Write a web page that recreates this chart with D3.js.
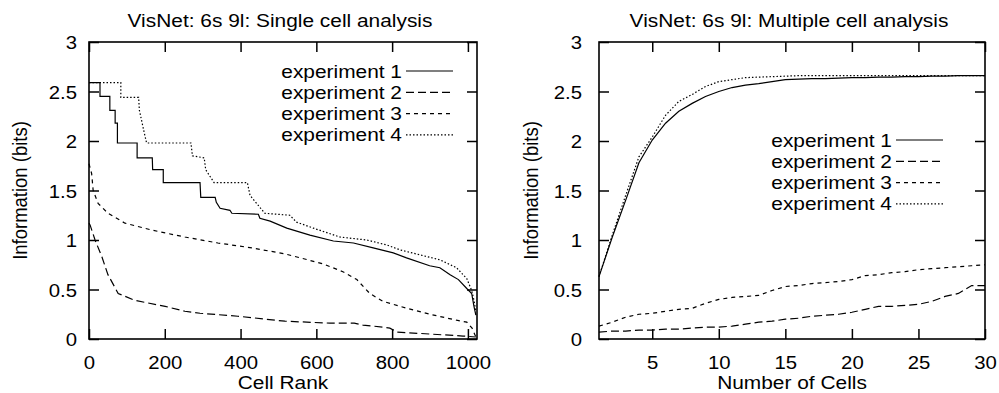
<!DOCTYPE html>
<meta charset="utf-8">
<script src="https://d3js.org/d3.v7.min.js"></script>
<style>
  body { margin: 0; background: #fff; }
  text { font-family: "Liberation Sans", Arial, sans-serif; font-size: 18.5px; fill: #000; }
</style>
<div id="graph"></div>
<script>
  // ---- single cell analysis: [cell rank, information (bits)]
  var singleExp1 = [[0,2.59],[29,2.59],[29,2.45],[55,2.45],[55,2.31],[69,2.31],[69,2.18],[75,2.18],[75,1.98],[127,1.98],
    [127,1.83],[167,1.83],[168,1.71],[196,1.71],[196,1.58],[293,1.58],[295,1.43],[333,1.43],[336,1.38],[346,1.32],
    [372,1.30],[377,1.27],[447,1.26],[451,1.22],[478,1.19],[522,1.12],[583,1.05],[645,0.99],[698,0.97],[750,0.92],
    [803,0.87],[838,0.82],[899,0.74],[926,0.72],[953,0.65],[975,0.60],[997,0.51],[1010,0.46],[1016,0.33],[1021,0.24]];
  var singleExp2 = [[0,1.17],[3,1.15],[16,1.0],[34,0.83],[50,0.65],[77,0.46],[121,0.39],[201,0.33],[253,0.28],[293,0.26],
    [393,0.23],[517,0.18],[636,0.16],[700,0.16],[723,0.14],[776,0.12],[794,0.11],[813,0.07],[900,0.05],[987,0.03],[1021,0.02]];
  var singleExp3 = [[0,1.77],[7,1.67],[11,1.5],[24,1.37],[50,1.27],[95,1.17],[166,1.10],[253,1.03],[340,0.97],[430,0.92],
    [517,0.86],[617,0.76],[670,0.68],[707,0.6],[741,0.46],[776,0.38],[839,0.31],[900,0.25],[970,0.19],[997,0.17],
    [1011,0.11],[1021,0.02]];
  var singleExp4 = [[0,2.59],[84,2.59],[84,2.44],[131,2.44],[133,2.31],[146,2.08],[152,1.98],[269,1.98],[273,1.85],[304,1.83],
    [308,1.71],[330,1.58],[418,1.58],[425,1.45],[464,1.27],[530,1.25],[548,1.18],[592,1.12],[662,1.03],[733,1.0],
    [786,0.95],[821,0.9],[926,0.8],[970,0.72],[997,0.61],[1010,0.49],[1016,0.39],[1021,0.28]];

  // ---- multiple cell analysis
  var cellCounts = [1,2,3,4,5,6,7,8,9,10,11,12,13,14,15,16,17,18,19,20,21,22,23,24,25,26,27,28,29,30];
  var multiExp1 = [0.63,1.03,1.40,1.78,2.01,2.18,2.30,2.38,2.45,2.50,2.54,2.565,2.58,2.60,2.62,2.625,2.63,2.63,2.635,2.64,
    2.64,2.645,2.645,2.65,2.65,2.655,2.655,2.66,2.66,2.66];
  var multiExp2 = [0.07,0.08,0.08,0.09,0.09,0.10,0.10,0.11,0.12,0.12,0.13,0.15,0.17,0.18,0.20,0.21,0.23,0.24,0.25,0.27,
    0.30,0.33,0.33,0.34,0.35,0.38,0.43,0.46,0.54,0.54];
  var multiExp3 = [0.13,0.17,0.22,0.25,0.26,0.28,0.30,0.31,0.36,0.40,0.42,0.43,0.44,0.49,0.53,0.54,0.56,0.57,0.58,0.60,
    0.64,0.65,0.67,0.68,0.70,0.71,0.72,0.73,0.74,0.75];
  var multiExp4 = [0.63,1.05,1.45,1.84,2.04,2.26,2.40,2.47,2.55,2.60,2.62,2.64,2.645,2.65,2.655,2.66,2.66,2.66,2.66,2.66,
    2.66,2.66,2.66,2.66,2.66,2.66,2.66,2.66,2.66,2.66];

  var legendNames = ["experiment 1", "experiment 2", "experiment 3", "experiment 4"];
  var dashes = [null, "8,4", "4,4", "1.5,2"];
  var yTicks = [0, 0.5, 1, 1.5, 2, 2.5, 3];
  var rankTicks = [0, 200, 400, 600, 800, 1000];
  var cellTicks = [5, 10, 15, 20, 25, 30];

  var sx = 1.13; // the original picture is a bit stretched sideways

  var svg = d3.select("#graph").append("svg")
    .attr("width", 999)
    .attr("height", 393);

  function txt(g, x, y, s, anchor) {
    return g.append("text")
      .attr("transform", "translate(" + x + "," + y + ") scale(" + sx + ",1)")
      .attr("text-anchor", anchor)
      .text(s);
  }

  function panel(o) {
    var top = 42, bottom = 339;
    var x = d3.scaleLinear().domain(o.xDomain).range([o.left, o.right]);
    var y = d3.scaleLinear().domain([0, 3]).range([bottom, top]);
    var g = svg.append("g");

    // bottom + left axes with labels, inward ticks
    var xa = g.append("g").attr("transform", "translate(0," + bottom + ")")
      .call(d3.axisBottom(x).tickValues(o.xTicks).tickSize(-10).tickPadding(17).tickFormat(d3.format("d")));
    var ya = g.append("g").attr("transform", "translate(" + o.left + ",0)")
      .call(d3.axisLeft(y).tickValues(yTicks).tickSize(-10).tickPadding(o.yGap).tickFormat(function (d) { return d; }));
    // mirrored ticks on top and right
    var xt = g.append("g").attr("transform", "translate(0," + top + ")")
      .call(d3.axisTop(x).tickValues(o.xTicks).tickSize(-10).tickFormat(""));
    var yr = g.append("g").attr("transform", "translate(" + o.right + ",0)")
      .call(d3.axisRight(y).tickValues(yTicks).tickSize(-10).tickFormat(""));

    [xa, ya, xt, yr].forEach(function (a) {
      a.select(".domain").remove();
      a.selectAll("line").attr("stroke", "#000").attr("stroke-width", 1.5);
      a.selectAll("text").style("font-size", "18px").attr("fill", "#000");
    });
    xa.selectAll("text").attr("transform", "scale(" + sx + ",1)");
    ya.selectAll("text").attr("x", -o.yGap / sx).attr("dy", "0.38em").attr("transform", "scale(" + sx + ",1)");

    g.append("rect")
      .attr("x", o.left).attr("y", top)
      .attr("width", o.right - o.left).attr("height", bottom - top)
      .attr("fill", "none").attr("stroke", "#000").attr("stroke-width", 1.6);

    var line = d3.line().x(function (d) { return x(d[0]); }).y(function (d) { return y(d[1]); });
    o.series.forEach(function (s, i) {
      g.append("path")
        .datum(s)
        .attr("d", line)
        .attr("fill", "none")
        .attr("stroke", "#000")
        .attr("stroke-width", 1.2)
        .attr("stroke-dasharray", dashes[i]);
    });

    // legend
    legendNames.forEach(function (name, i) {
      var ly = o.legendY + i * 21.3;
      txt(g, o.legendX, ly + 6.5, name, "end");
      g.append("line")
        .attr("x1", o.legendX + 4).attr("x2", o.legendX + 51)
        .attr("y1", ly).attr("y2", ly)
        .attr("stroke", "#000").attr("stroke-width", 1.2)
        .attr("stroke-dasharray", dashes[i]);
    });

    txt(g, (o.left + o.right) / 2 - 3, 27, o.title, "middle");
    txt(g, (o.left + o.right) / 2, 389, o.xLabel, "middle");
    g.append("text")
      .attr("transform", "translate(" + o.yLabelX + "," + ((top + bottom) / 2) + ") rotate(-90) scale(1," + sx + ")")
      .attr("text-anchor", "middle")
      .text("Information (bits)");
  }

  panel({
    left: 89, right: 477, xDomain: [0, 1024], xTicks: rankTicks,
    title: "VisNet: 6s 9l: Single cell analysis", xLabel: "Cell Rank",
    series: [singleExp1, singleExp2, singleExp3, singleExp4],
    legendX: 402, legendY: 71, yGap: 12, yLabelX: 27
  });

  function pairs(vals) {
    return vals.map(function (v, i) { return [cellCounts[i], v]; });
  }

  panel({
    left: 599, right: 985, xDomain: [1, 30], xTicks: cellTicks,
    title: "VisNet: 6s 9l: Multiple cell analysis", xLabel: "Number of Cells",
    series: [pairs(multiExp1), pairs(multiExp2), pairs(multiExp3), pairs(multiExp4)],
    legendX: 892, legendY: 140, yGap: 17, yLabelX: 538
  });
</script>
